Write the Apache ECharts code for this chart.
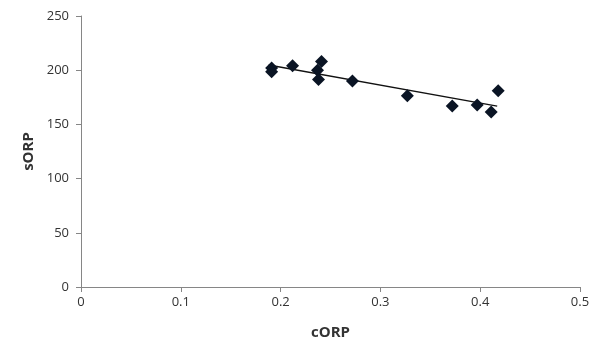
<!DOCTYPE html>
<html><head><meta charset="utf-8">
<script src="https://cdn.jsdelivr.net/npm/echarts@6/dist/echarts.min.js"></script>
<style>html,body{margin:0;padding:0;background:#fff}#c{width:599px;height:348px}</style>
</head><body><div id="c"></div>
<script>
const cORP = [0.191, 0.191, 0.212, 0.241, 0.237, 0.238, 0.272, 0.327, 0.372, 0.397, 0.411, 0.418];
const sORP = [202, 198.5, 204, 208, 200, 191.5, 190, 176.5, 167, 168, 161.5, 181];
const trendX = [0.188, 0.417];
const trendY = [204.8, 166.8];
const xTicks = [0, 0.1, 0.2, 0.3, 0.4, 0.5];
const yTicks = [0, 50, 100, 150, 200, 250];

const chart = echarts.init(document.getElementById('c'));
const axisCol = '#868686';
const txt = '#333333';
const font = 'Open Sans, Liberation Sans, Arial, sans-serif';
chart.setOption({
  animation: false,
  grid: {left: 81, right: 19, top: 16, bottom: 61},
  xAxis: {
    type: 'value', min: xTicks[0], max: xTicks[xTicks.length-1], interval: 0.1,
    name: 'cORP', nameLocation: 'middle', nameGap: 38,
    nameTextStyle: {fontFamily: font, fontWeight: 'bold', fontSize: 15, color: txt},
    axisLine: {lineStyle: {color: axisCol}},
    axisTick: {show: true, length: 5, lineStyle: {color: axisCol}},
    axisLabel: {fontFamily: font, fontSize: 13, color: txt, margin: 9},
    splitLine: {show: false}
  },
  yAxis: {
    type: 'value', min: yTicks[0], max: yTicks[yTicks.length-1], interval: 50,
    name: 'sORP', nameLocation: 'middle', nameGap: 37,
    nameTextStyle: {fontFamily: font, fontWeight: 'bold', fontSize: 15, color: txt},
    axisLine: {show: true, lineStyle: {color: axisCol}},
    axisTick: {show: true, length: 5, lineStyle: {color: axisCol}},
    axisLabel: {fontFamily: font, fontSize: 13, color: txt, margin: 12},
    splitLine: {show: false}
  },
  series: [
    {
      type: 'line', data: trendX.map((x, i) => [x, trendY[i]]),
      symbol: 'none', lineStyle: {color: '#111', width: 1.3}, z: 1
    },
    {
      type: 'scatter', data: cORP.map((x, i) => [x, sORP[i]]),
      symbol: 'diamond', symbolSize: 13,
      itemStyle: {color: '#0a1424', opacity: 1}, z: 2
    }
  ]
});
</script></body></html>
